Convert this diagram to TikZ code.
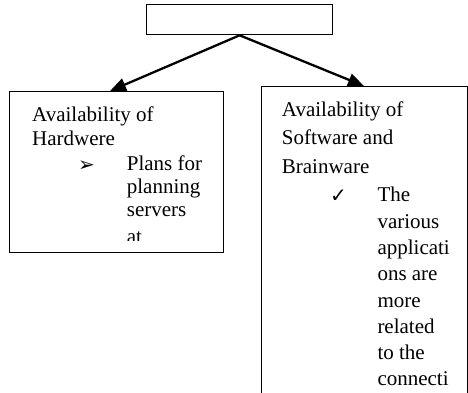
\documentclass[tikz,border=0pt]{standalone}
\usepackage{fontspec}
\setmainfont{Liberation Serif}
\newfontfamily\symfont{DejaVu Sans}
\usetikzlibrary{arrows.meta}
\begin{document}
\begin{tikzpicture}[x=1pt,y=-1pt,
  box/.style={draw=black,line width=1.3pt,inner sep=0pt,anchor=north west},
  txt/.style={anchor=base west,inner sep=0pt,font=\fontsize{21}{25}\selectfont},
  sym/.style={anchor=base west,inner sep=0pt,font=\symfont\fontsize{20}{22}\selectfont},
  conn/.style={line width=2.3pt,-{Triangle[length=16pt,width=13pt]}}]
\useasboundingbox (0,0) rectangle (468,392);
% boxes
\node[box,minimum width=186pt,minimum height=30pt] (top) at (146,4) {};
\node[box,minimum width=214pt,minimum height=161pt] (left) at (9,91) {};
\node[box,minimum width=205.5pt,minimum height=330pt] (right) at (261,86) {};
% connectors
\coordinate (ltip) at (110,91);
\coordinate (rtip) at (364,86);
\draw[conn] (top.south) -- (ltip);
\draw[conn] (top.south) -- (rtip);
% left text
\begin{scope}
\clip (9,91) rectangle (223,240);
\node[txt] (la1) at (32,121.7) {Availability of};
\node[txt] (la2) at (32,145) {Hardwere};
\node[sym] (lb) at (78,171) {➢};
\node[txt] (lc1) at (126.7,170.7) {Plans for};
\node[txt] (lc2) at (126.7,193) {planning};
\node[txt] (lc3) at (126.7,216) {servers};
\node[txt] (lc4) at (126.7,243) {at};
\end{scope}
% right text
\begin{scope}
\clip (261,86) rectangle (466.5,392);
\node[txt] (ra1) at (281.7,116.7) {Availability of};
\node[txt] (ra2) at (281.7,144.5) {Software and};
\node[txt] (ra3) at (281.7,173) {Brainware};
\node[sym] (rb) at (330,202) {✓};
\node[txt] (rc1) at (377.3,201.7) {The};
\node[txt] (rc2) at (377.3,228) {various};
\node[txt] (rc3) at (377.3,254.3) {applicati};
\node[txt] (rc4) at (377.3,280.6) {ons are};
\node[txt] (rc5) at (377.3,307) {more};
\node[txt] (rc6) at (377.3,333.3) {related};
\node[txt] (rc7) at (377.3,359.6) {to the};
\node[txt] (rc8) at (377.3,385.9) {connecti};
\end{scope}
\end{tikzpicture}
\end{document}
